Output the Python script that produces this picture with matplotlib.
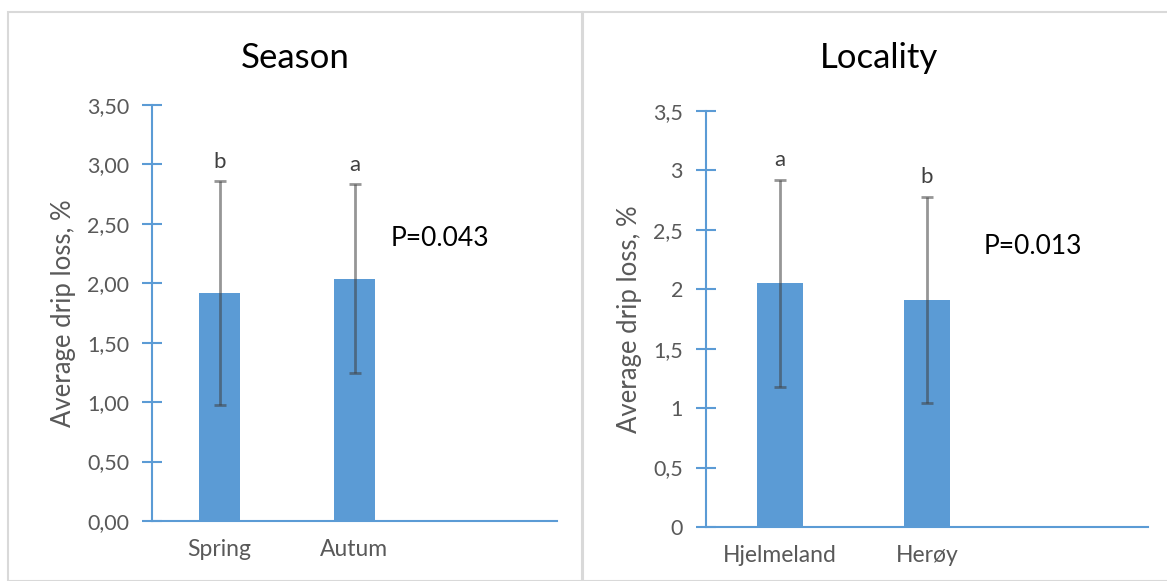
import matplotlib.pyplot as plt
from matplotlib.patches import Rectangle
from matplotlib.ticker import FuncFormatter

plt.rcParams["font.family"] = ["Lato", "DejaVu Sans"]

season_cats = ["Spring", "Autum"]
season_means = [1.92, 2.04]
season_err = [0.94, 0.795]
season_letters = ["b", "a"]
season_p = "P=0.043"

locality_cats = ["Hjelmeland", "Herøy"]
locality_means = [2.05, 1.91]
locality_err = [0.87, 0.87]
locality_letters = ["a", "b"]
locality_p = "P=0.013"

blue = "#5b9bd5"
grey = "#595959"

fig = plt.figure(figsize=(11.67, 5.81), dpi=100)

# panel frames like the excel chart areas
fig.patches.append(Rectangle((8 / 1167, 0), 574 / 1167, 569 / 581, transform=fig.transFigure,
                             fill=False, edgecolor="#d9d9d9", linewidth=1.5))
fig.patches.append(Rectangle((583 / 1167, 0), 590 / 1167, 569 / 581, transform=fig.transFigure,
                             fill=False, edgecolor="#d9d9d9", linewidth=1.5))


def panel(rect, title, title_x, cats, means, err, letters, ptext, ppos, decimals):
    ax = fig.add_axes(rect)
    x = list(range(len(cats)))
    ax.bar(x, means, width=0.31, color=blue, zorder=2)
    ax.errorbar(x, means, yerr=err, fmt="none", ecolor="#404040", alpha=0.55,
                elinewidth=2, capsize=4.5, capthick=2, zorder=3)
    for xi, m, e, l in zip(x, means, err, letters):
        ax.annotate(l, (xi, m + e), xytext=(0, 14), textcoords="offset points",
                    ha="center", va="center", fontsize=16, color="#404040")
    ax.text(ppos[0], ppos[1], ptext, transform=ax.transAxes, fontsize=19,
            ha="left", va="center", color="black")
    ax.set_xlim(-0.5, 2.5)
    ax.set_ylim(0, 3.5)
    ax.set_yticks([0, 0.5, 1, 1.5, 2, 2.5, 3, 3.5])
    if decimals:
        ax.yaxis.set_major_formatter(FuncFormatter(lambda v, p: f"{v:.2f}".replace(".", ",")))
    else:
        ax.yaxis.set_major_formatter(FuncFormatter(lambda v, p: f"{v:g}".replace(".", ",")))
    ax.set_xticks(x)
    ax.set_xticklabels(cats)
    ax.tick_params(axis="x", length=0, pad=13, labelsize=16.5, labelcolor=grey)
    ax.tick_params(axis="y", direction="inout", length=15, width=1.5, color=blue,
                   labelsize=15.5, labelcolor=grey, pad=9)
    for s in ["top", "right"]:
        ax.spines[s].set_visible(False)
    for s in ["left", "bottom"]:
        ax.spines[s].set_color(blue)
        ax.spines[s].set_linewidth(1.5)
    ax.set_ylabel("Average drip loss, %", fontsize=18.5, color=grey, labelpad=8)
    fig.text(title_x, 1 - 58 / 581, title, fontsize=25, ha="center", va="center", color="black")
    return ax


panel([152 / 1167, 1 - 521 / 581, 405 / 1167, 416 / 581], "Season", 295 / 1167,
      season_cats, season_means, season_err, season_letters, season_p,
      (0.588, 0.68), True)
panel([706 / 1167, 1 - 527 / 581, 442 / 1167, 416 / 581], "Locality", 879 / 1167,
      locality_cats, locality_means, locality_err, locality_letters, locality_p,
      (0.627, 0.675), False)

fig.savefig("out.png", dpi=100)
